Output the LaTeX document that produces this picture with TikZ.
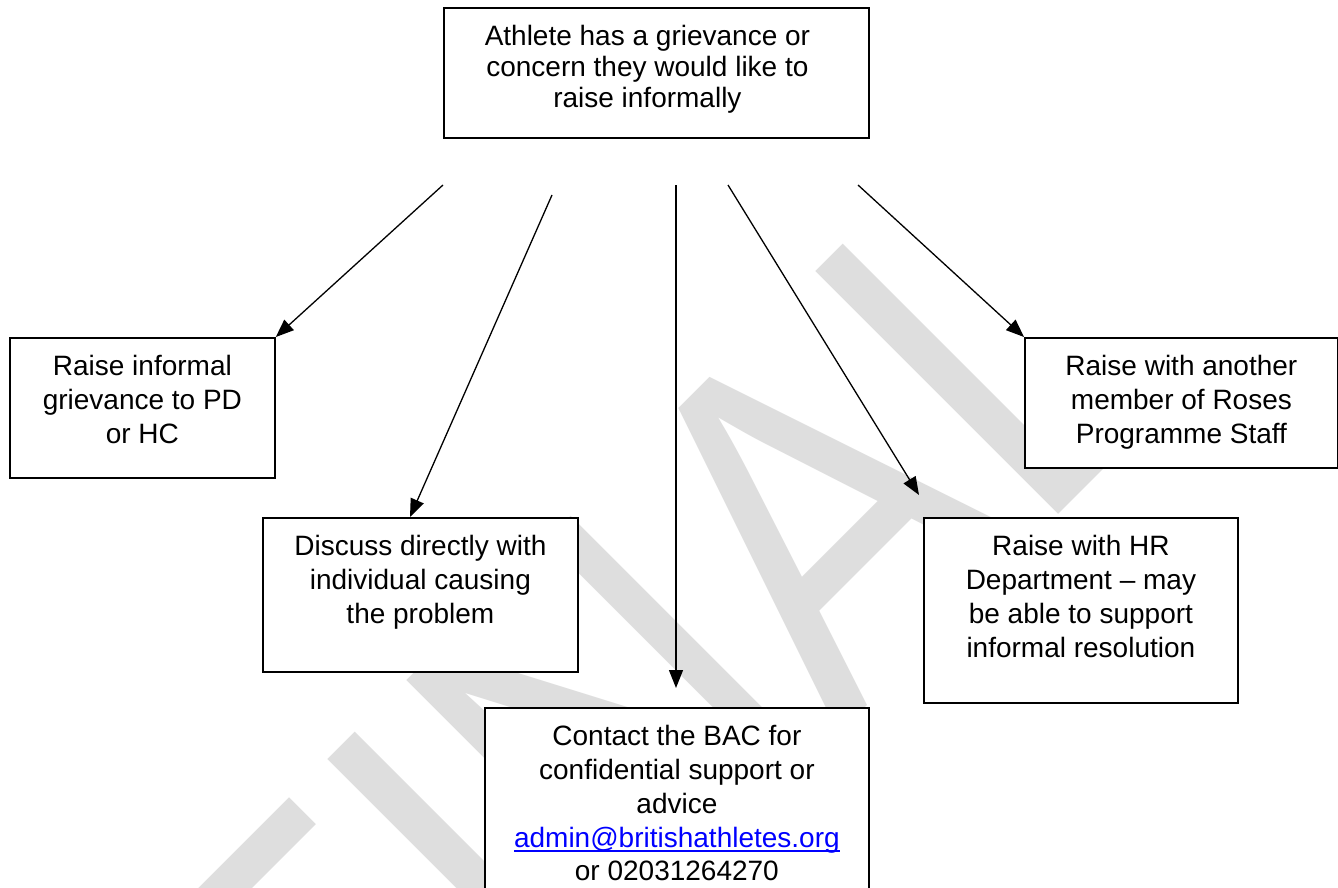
\documentclass[tikz,border=0pt]{standalone}
\usepackage{fontspec}
\setmainfont{Liberation Sans}
\usepackage{tikz}
\usetikzlibrary{
  arrows.meta,
  positioning
}
\definecolor{gvLine}{HTML}{000000}
\definecolor{gvMark}{HTML}{DEDEDE}
\definecolor{gvLink}{HTML}{0000FF}
% box text: [right gap], width, height, line distance, lines
\newcommand{\gvtext}[5][0pt]{%
  \parbox[c][#3pt][t]{#2pt}{\fontsize{28}{#4}\selectfont\centering\rightskip=#1 plus 1fil\rule{0pt}{38pt}#5\par}}
\newcommand{\gvlink}[1]{%
  \leavevmode\sbox0{\color{gvLink}#1}\rlap{\color{gvLink}\rule[-5pt]{\wd0}{1.6pt}}\usebox0}
\tikzset{
  gvbox/.style={draw=gvLine, line width=1.8pt, fill=white, inner sep=0pt, anchor=north west},
  gvflow/.style={-{Triangle[length=18pt, width=14pt]}, line width=1.3pt, gvLine},
  gvmark/.style={text=gvMark, inner sep=0pt, font=\fontsize{416}{416}\selectfont}
}

\begin{document}
\begin{tikzpicture}[x=1pt, y=-1pt]
  \path[use as bounding box, fill=white] (0,0) rectangle (1338,888);
  \node[gvmark, anchor=base west, rotate=45, yscale=1.2] (mark) at (364,1209) {FINAL};

  \node[gvbox] (top) at (443,7) {\gvtext[18pt]{425}{130}{31}{Athlete has a grievance or\\concern they would like to\\raise informally}};
  \node[gvbox] (pd) at (9,337) {\gvtext{265}{140}{33.7}{Raise informal\\grievance to PD\\or HC}};
  \node[gvbox] (dis) at (262,517) {\gvtext{315}{154}{33.7}{Discuss directly with\\individual causing\\the problem}};
  \node[gvbox] (bac) at (484,707) {\gvtext{384}{220}{33.7}{Contact the BAC for\\confidential support or\\advice\\\gvlink{admin@britishathletes.org}\\or 02031264270}};
  \node[gvbox] (hr) at (923,517) {\gvtext{314}{185}{33.7}{Raise with HR\\Department – may\\be able to support\\informal resolution}};
  \node[gvbox] (roses) at (1024,337) {\gvtext{313}{130}{33.7}{Raise with another\\member of Roses\\Programme Staff}};

  \coordinate (s1) at (443,185);
  \coordinate (s2) at (552,195);
  \coordinate (s3) at (676,185);
  \coordinate (s4) at (728,185);
  \coordinate (s5) at (858,185);
  \coordinate (t2) at (410,517);
  \coordinate (t3) at (676,688);
  \coordinate (t4) at (919,495);

  \foreach \from/\to in {s1/pd.north east, s2/t2, s3/t3, s4/t4, s5/roses.north west}{
    \draw[gvflow] (\from) -- (\to);
  }
\end{tikzpicture}
\end{document}
